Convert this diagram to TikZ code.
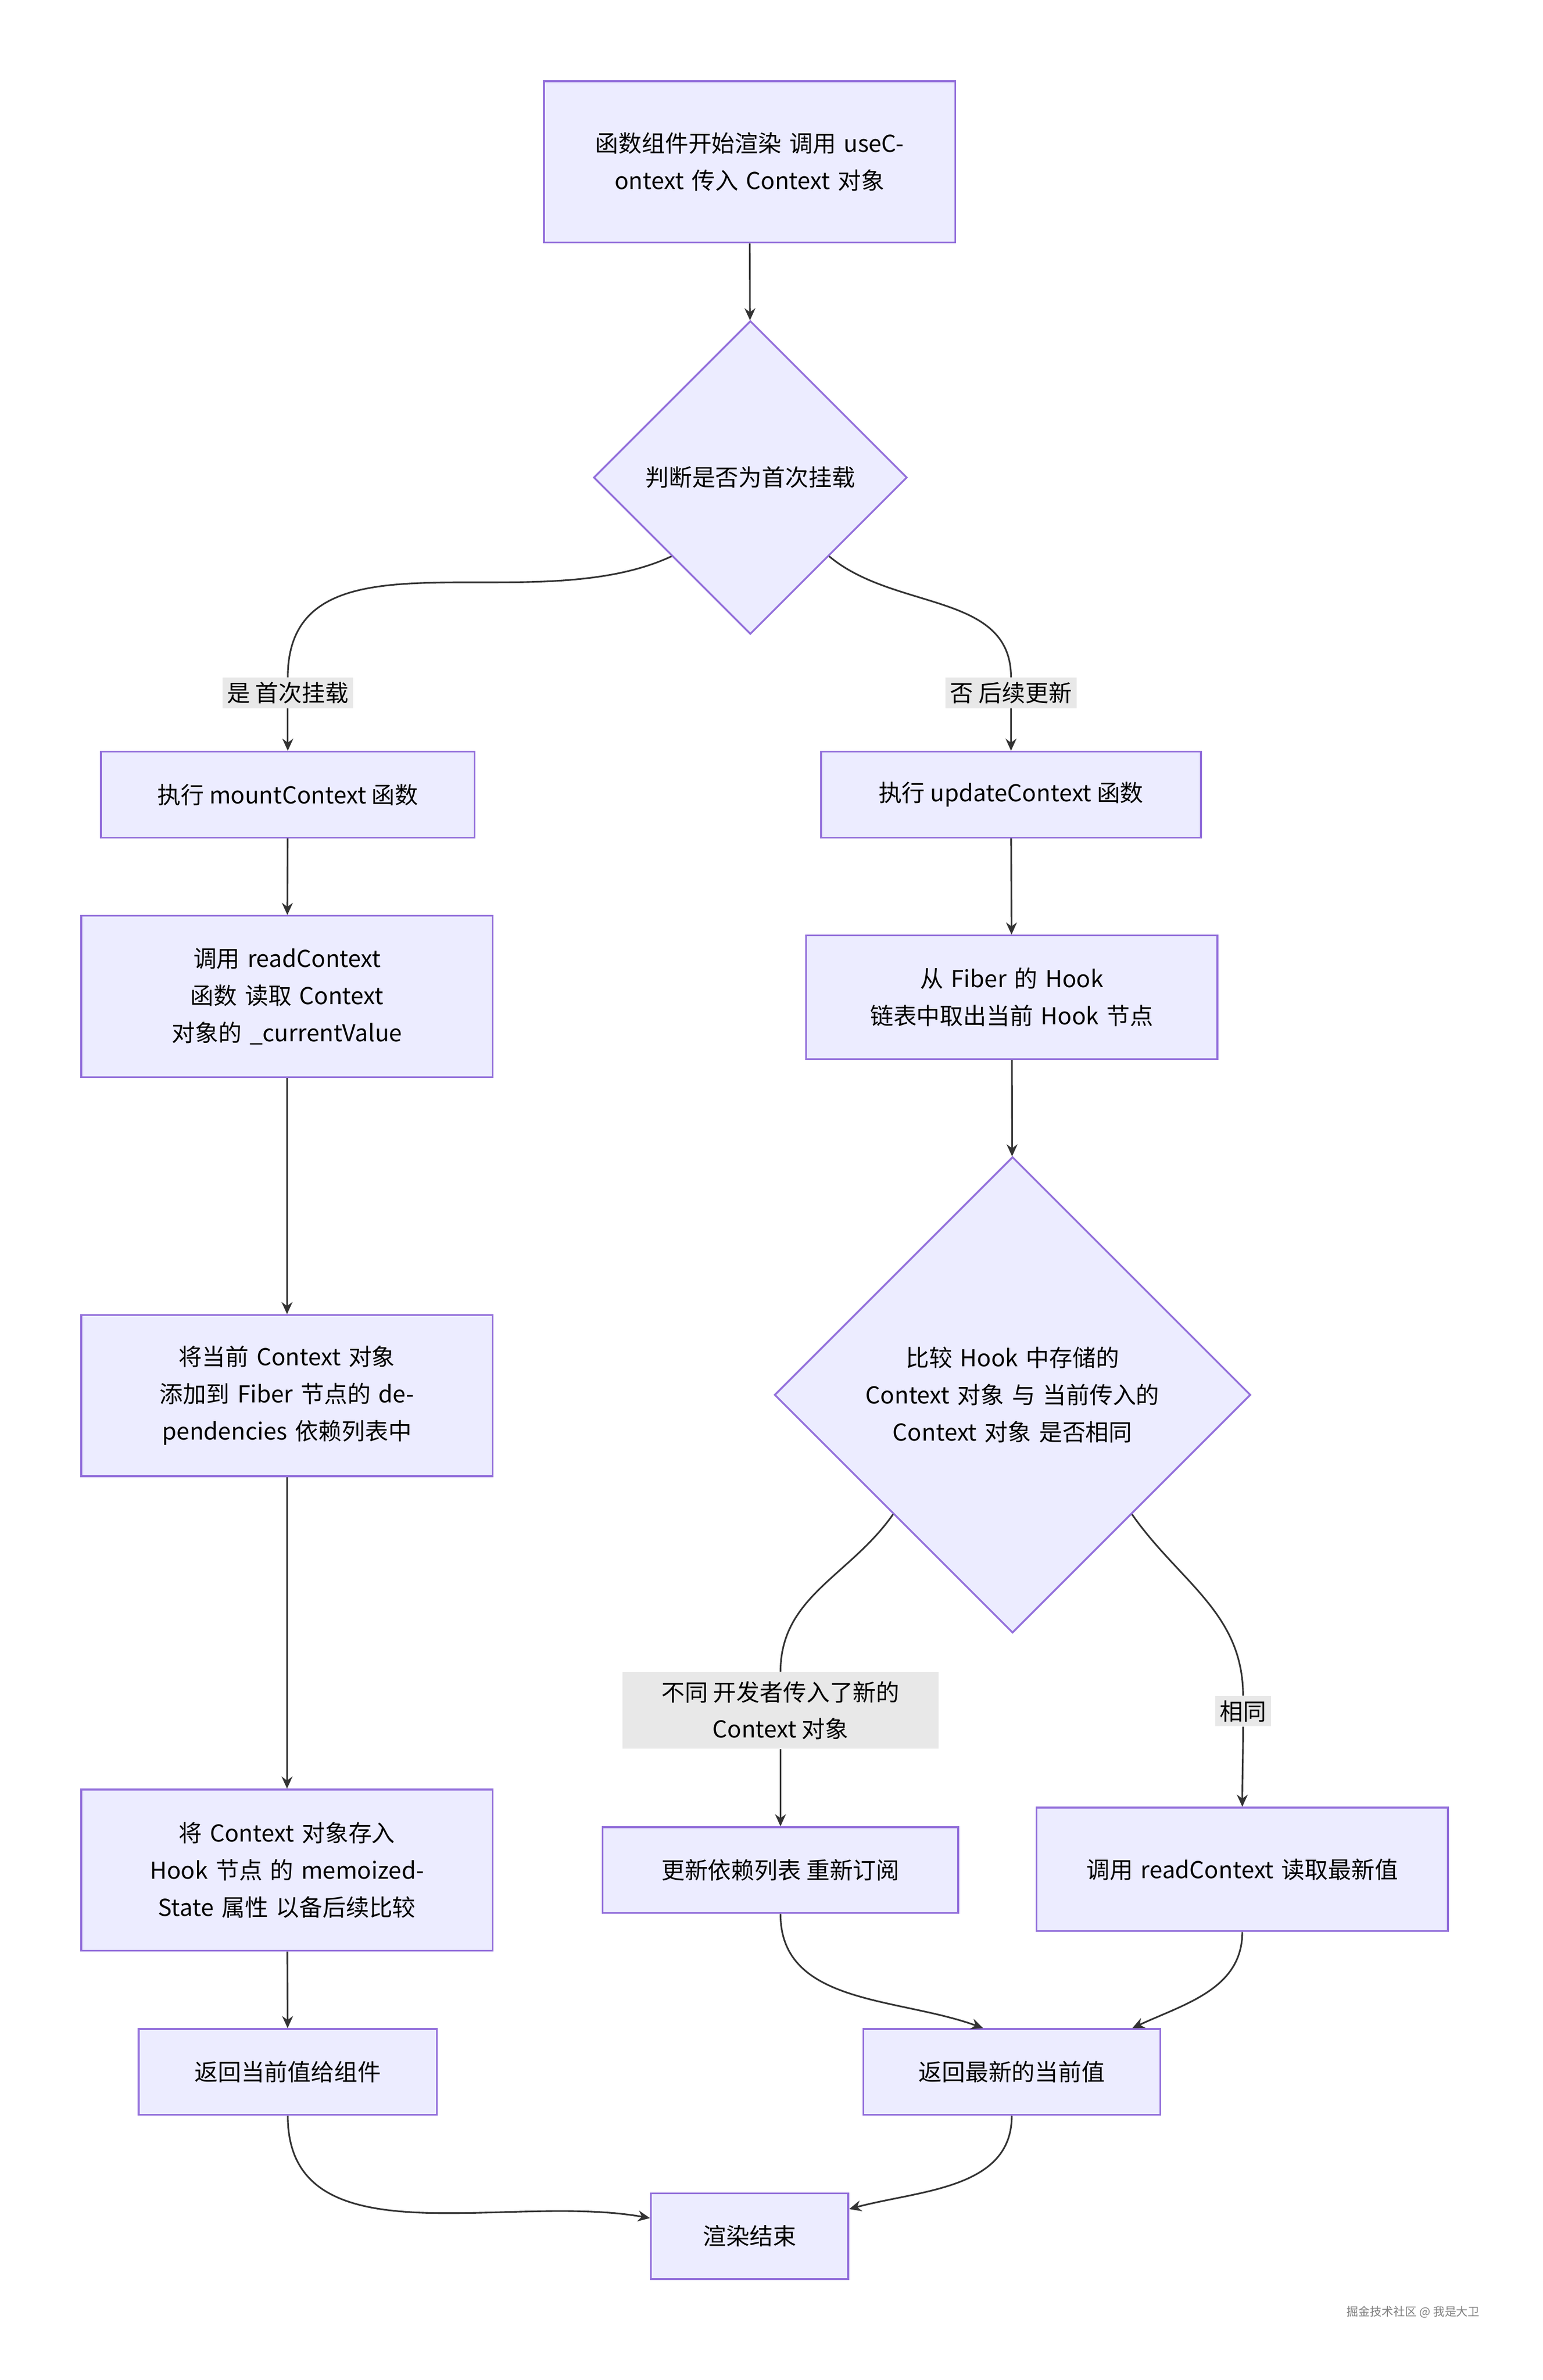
\documentclass[tikz,border=0pt]{standalone}
\usepackage{fontspec}
\setmainfont{Noto Sans CJK SC}
\usetikzlibrary{shapes.geometric,arrows.meta,positioning}
\definecolor{boxfill}{HTML}{ECECFF}
\definecolor{boxline}{HTML}{9370DB}
\definecolor{edgecol}{HTML}{333333}
\definecolor{lblfill}{HTML}{E8E8E8}
\tikzset{
  stepbox/.style={draw=boxline,fill=boxfill,line width=0.6mm,align=center,inner sep=0pt},
  choice/.style={diamond,draw=boxline,fill=boxfill,line width=0.6mm,align=center,aspect=1,inner sep=0pt},
  lbl/.style={fill=lblfill,align=center,inner sep=1.5mm},
  line/.style={draw=edgecol,line width=0.55mm},
  arrow/.style={line,-{Stealth[length=4mm,width=3.6mm]}}
}
\begin{document}
\begin{tikzpicture}[x=0.5mm,y=-0.5mm,font=\fontsize{22}{35}\selectfont]
\useasboundingbox[fill=white] (0,0) rectangle (1024,1580);
% left column
\node[stepbox,minimum width=136.5mm,minimum height=53.5mm,text width=115mm] (start) at (497.5,107.5) {函数组件开始渲染 调用 useContext 传入 Context 对象};
\node[choice,minimum size=104mm] (judge) at (498,317) {判断是否为首次挂载};
\node[stepbox,minimum width=124mm,minimum height=28.5mm] (mount) at (191,527.5) {执行 mountContext 函数};
\node[stepbox,minimum width=136.5mm,minimum height=53.5mm,text width=105mm] (read) at (190.5,661.5) {调用 readContext 函数 读取 Context 对象的 \_currentValue};
\node[stepbox,minimum width=136.5mm,minimum height=53.5mm,text width=110mm] (add) at (190.5,926.5) {将当前 Context 对象 添加到 Fiber 节点的 dependencies 依赖列表中};
\node[stepbox,minimum width=136.5mm,minimum height=53.5mm,text width=110mm] (store) at (190.5,1241.5) {将 Context 对象存入 Hook 节点 的 memoizedState 属性 以备后续比较};
\node[stepbox,minimum width=99mm,minimum height=28.5mm] (ret) at (191,1375.5) {返回当前值给组件};
% right column
\node[stepbox,minimum width=126mm,minimum height=28.5mm] (update) at (671,527.5) {执行 updateContext 函数};
\node[stepbox,minimum width=136.5mm,minimum height=41mm,text width=105mm] (fetch) at (671.5,662) {从 Fiber 的 Hook 链表中取出当前 Hook 节点};
\node[choice,minimum size=158mm,text width=100mm] (compare) at (672,926) {比较 Hook 中存储的 Context 对象 与 当前传入的 Context 对象 是否相同};
\node[stepbox,minimum width=118mm,minimum height=28.5mm] (resub) at (518,1241.5) {更新依赖列表 重新订阅};
\node[stepbox,minimum width=136.5mm,minimum height=41mm,text width=105mm] (latest) at (824.5,1241) {调用 readContext 读取最新值};
\node[stepbox,minimum width=98.5mm,minimum height=28.5mm] (retlatest) at (671.5,1375.5) {返回最新的当前值};
\node[stepbox,minimum width=65.5mm,minimum height=28.5mm] (finish) at (497.5,1484.5) {渲染结束};
% labels
\node[lbl] (yes) at (191,460) {是 首次挂载};
\node[lbl] (no) at (671,460) {否 后续更新};
\node[lbl,minimum width=105mm,minimum height=25.5mm] (differ) at (518,1135.5) {不同 开发者传入了新的\\Context 对象};
\node[lbl] (same) at (825,1136) {相同};
% connectors
\draw[arrow] (start) -- (judge);
\draw[line] (judge.south west) to[out=205,in=90] (yes.north);
\draw[arrow] (yes.south) to[out=-90,in=90] (mount.north);
\draw[line] (judge.south east) to[out=-40,in=90] (no.north);
\draw[arrow] (no.south) -- (update.north);
\draw[arrow] (mount) -- (read);
\draw[arrow] (read) -- (add);
\draw[arrow] (add) -- (store);
\draw[arrow] (store) -- (ret);
\draw[arrow] (update) -- (fetch);
\draw[arrow] (fetch) -- (compare);
\draw[line] (compare.south west) to[out=235,in=90] (differ.north);
\draw[arrow] (differ.south) to[out=-90,in=90] (resub.north);
\draw[line] (compare.south east) to[out=-55,in=90] (same.north);
\draw[arrow] (same.south) to[out=-90,in=90] (latest.north);
\draw[arrow] (resub.south) to[out=-90,in=160] ([xshift=-9.5mm]retlatest.north);
\draw[arrow] (latest.south) to[out=-90,in=25] ([xshift=40mm]retlatest.north);
\draw[arrow] (ret.south) to[out=-90,in=170] ([yshift=6mm]finish.west);
\draw[arrow] (retlatest.south) to[out=-90,in=15] ([yshift=9mm]finish.east);
\node[text=gray,font=\fontsize{11}{13}\selectfont] (mark) at (938,1535) {掘金技术社区 @ 我是大卫};
\end{tikzpicture}
\end{document}
